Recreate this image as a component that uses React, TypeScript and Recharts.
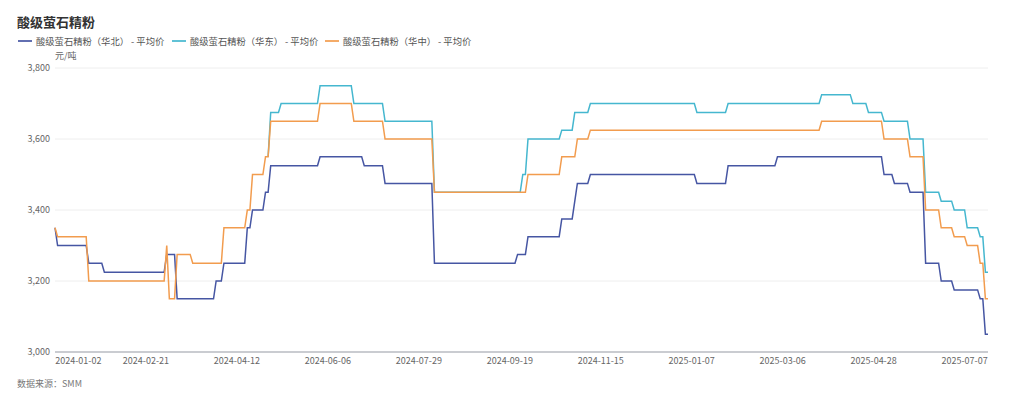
import { LineChart, Line, XAxis, YAxis, CartesianGrid } from "recharts";

// x = trading-day index, labels only on a few of them
const tickIdx = [9, 35, 70, 105, 140, 175, 210, 245, 280, 315, 350];
const tickLabels = [
  "2024-01-02", "2024-02-21", "2024-04-12", "2024-06-06", "2024-07-29", "2024-09-19",
  "2024-11-15", "2025-01-07", "2025-03-06", "2025-04-28", "2025-07-07",
];
const yTicks = [3000, 3200, 3400, 3600, 3800];

// [index, 元/吨] at every price change
const northPts: [number, number][] = [
  [0, 3350], [1, 3300], [12, 3300], [13, 3250], [18, 3250], [19, 3225], [42, 3225], [43, 3275],
  [46, 3275], [47, 3150], [61, 3150], [62, 3200], [64, 3200], [65, 3250], [73, 3250], [74, 3350],
  [75, 3350], [76, 3400], [80, 3400], [81, 3450], [82, 3450], [83, 3525], [101, 3525], [102, 3550],
  [118, 3550], [119, 3525], [126, 3525], [127, 3475], [145, 3475], [146, 3250], [177, 3250], [178, 3275],
  [181, 3275], [182, 3325], [194, 3325], [195, 3375], [199, 3375], [201, 3475], [205, 3475], [206, 3500],
  [246, 3500], [247, 3475], [258, 3475], [259, 3525], [277, 3525], [278, 3550], [318, 3550], [319, 3500],
  [322, 3500], [323, 3475], [328, 3475], [329, 3450], [334, 3450], [335, 3250], [340, 3250], [341, 3200],
  [345, 3200], [346, 3175], [355, 3175], [356, 3150], [357, 3150], [358, 3050], [359, 3050],
];
const eastPts: [number, number][] = [
  [82, 3550], [83, 3675], [86, 3675], [87, 3700], [101, 3700], [102, 3750], [114, 3750], [115, 3700],
  [126, 3700], [127, 3650], [145, 3650], [146, 3450], [179, 3450], [180, 3500], [181, 3500], [182, 3600],
  [194, 3600], [195, 3625], [199, 3625], [200, 3675], [205, 3675], [206, 3700], [246, 3700], [247, 3675],
  [258, 3675], [259, 3700], [294, 3700], [295, 3725], [306, 3725], [307, 3700], [312, 3700], [313, 3675],
  [318, 3675], [319, 3650], [328, 3650], [329, 3600], [334, 3600], [335, 3450], [340, 3450], [341, 3425],
  [345, 3425], [346, 3400], [350, 3400], [351, 3350], [355, 3350], [356, 3325], [357, 3325], [358, 3225],
  [359, 3225],
];
const centralPts: [number, number][] = [
  [0, 3350], [1, 3325], [12, 3325], [13, 3200], [42, 3200], [43, 3300], [44, 3150], [46, 3150],
  [47, 3275], [52, 3275], [53, 3250], [64, 3250], [65, 3350], [73, 3350], [74, 3400], [75, 3400],
  [76, 3500], [80, 3500], [81, 3550], [82, 3550], [83, 3650], [101, 3650], [102, 3700], [114, 3700],
  [115, 3650], [126, 3650], [127, 3600], [145, 3600], [146, 3450], [181, 3450], [182, 3500], [194, 3500],
  [195, 3550], [200, 3550], [201, 3600], [205, 3600], [206, 3625], [294, 3625], [295, 3650], [318, 3650],
  [319, 3600], [328, 3600], [329, 3550], [334, 3550], [335, 3400], [340, 3400], [341, 3350], [345, 3350],
  [346, 3325], [350, 3325], [351, 3300], [355, 3300], [356, 3250], [357, 3250], [358, 3150], [359, 3150],
];

const series = [
  { name: "酸级萤石精粉（华北） - 平均价", pts: northPts, color: "#4656a3", legendX: 18 },
  { name: "酸级萤石精粉（华东） - 平均价", pts: eastPts, color: "#45b7cf", legendX: 172 },
  { name: "酸级萤石精粉（华中） - 平均价", pts: centralPts, color: "#f29c4e", legendX: 325 },
];

const FONT = '"Noto Sans CJK SC", "Noto Sans", sans-serif';

export default function App() {
  const fmtY = (v: number) => v.toLocaleString("en-US");
  const fmtX = (i: number) => tickLabels[tickIdx.indexOf(i)] ?? "";

  return (
    <div style={{ position: "relative", width: 1024, height: 399, fontFamily: FONT, background: "#fff" }}>
      <style>{"body{margin:0}"}</style>
      <div style={{ position: "absolute", left: 17, top: 12, fontSize: 13, fontWeight: 700, color: "#333" }}>
        酸级萤石精粉
      </div>
      {series.map((s) => (
        <div key={s.name} style={{ position: "absolute", left: s.legendX, top: 33, display: "flex", alignItems: "center", height: 16 }}>
          <span style={{ display: "inline-block", width: 14, height: 2, background: s.color, opacity: 0.85, marginRight: 4 }} />
          <span style={{ fontSize: 9.3, color: "#555", whiteSpace: "nowrap" }}>{s.name}</span>
        </div>
      ))}
      <div style={{ position: "absolute", left: 55, top: 49, fontSize: 9, color: "#666" }}>元/吨</div>
      <div style={{ position: "absolute", left: 17, top: 377, fontSize: 9, color: "#777" }}>数据来源：SMM</div>

      <div style={{ position: "absolute", left: 0, top: 0 }}>
        <LineChart width={1024} height={399} margin={{ top: 68, right: 36, bottom: 27, left: 5 }}>
          <CartesianGrid vertical={false} stroke="#eeeeee" />
          <XAxis
            type="number"
            dataKey="i"
            domain={[0, 359]}
            ticks={tickIdx}
            interval={0}
            tickFormatter={fmtX}
            tickLine={false}
            tickSize={4}
            tickMargin={2}
            height={20}
            axisLine={{ stroke: "#9da1ab" }}
            tick={{ fontSize: 9, fill: "#666", fontFamily: FONT }}
          />
          <YAxis
            domain={[3000, 3800]}
            ticks={yTicks}
            width={50}
            tickFormatter={fmtY}
            axisLine={false}
            tickLine={false}
            tickSize={3}
            tickMargin={2}
            tick={{ fontSize: 9, fill: "#666", fontFamily: FONT }}
          />
          {series.map((s) => (
            <Line
              key={s.name}
              name={s.name}
              data={s.pts.map(([i, v]) => ({ i, v }))}
              dataKey="v"
              type="linear"
              stroke={s.color}
              strokeWidth={1.5}
              dot={false}
              isAnimationActive={false}
            />
          ))}
        </LineChart>
      </div>
    </div>
  );
}
